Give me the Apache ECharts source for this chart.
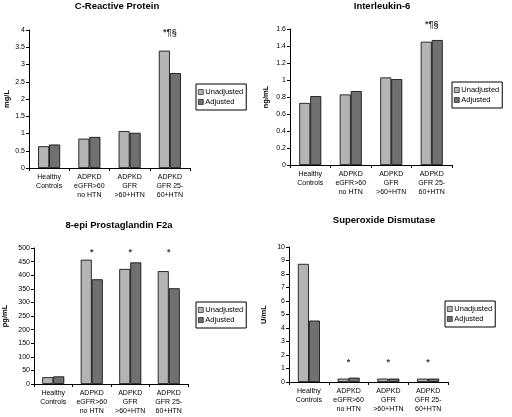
<!DOCTYPE html>
<html><head><meta charset="utf-8">
<script src="https://cdn.jsdelivr.net/npm/echarts@6/dist/echarts.min.js"></script>
<style>html,body{margin:0;padding:0;background:#fff}#c{width:512px;height:417px}</style>
</head><body><div id="c"></div>
<script>
const categories = ['Healthy\nControls', 'ADPKD\neGFR>60\nno HTN', 'ADPKD\nGFR\n>60+HTN', 'ADPKD\nGFR 25-\n60+HTN'];
const seriesNames = ['Unadjusted', 'Adjusted'];

const titles = ['C-Reactive Protein', 'Interleukin-6', '8-epi Prostaglandin F2a', 'Superoxide Dismutase'];
const units = ['mg/L', 'ng/mL', 'pg/mL', 'U/mL'];
const yMax = [4, 1.6, 500, 10];
const yStep = [0.5, 0.2, 50, 1];

const crpUnadjusted = [0.63, 0.85, 1.07, 3.40];
const crpAdjusted = [0.68, 0.90, 1.02, 2.75];
const il6Unadjusted = [0.73, 0.83, 1.03, 1.45];
const il6Adjusted = [0.81, 0.87, 1.01, 1.47];
const pgUnadjusted = [25, 457, 423, 415];
const pgAdjusted = [28, 385, 447, 352];
const sodUnadjusted = [8.75, 0.25, 0.25, 0.25];
const sodAdjusted = [4.55, 0.32, 0.25, 0.25];

const crpNotes = ['', '', '', '*¶§'];
const il6Notes = ['', '', '', '*¶§'];
const pgNotes = ['', '*', '*', '*'];
const sodNotes = ['', '*', '*', '*'];
const noteLevel = [3.94, 1.65, 485, 1.45];

const unadjusted = [crpUnadjusted, il6Unadjusted, pgUnadjusted, sodUnadjusted];
const adjusted = [crpAdjusted, il6Adjusted, pgAdjusted, sodAdjusted];
const notes = [crpNotes, il6Notes, pgNotes, sodNotes];

const FONT = 'Liberation Sans';
const LIGHT = '#b4b4b4', DARK = '#707070';
const grids = [
  {left: 29, top: 30, width: 161, height: 138},
  {left: 290, top: 29, width: 162, height: 136},
  {left: 30, top: 248, width: 158, height: 136},
  {left: 289, top: 247, width: 159, height: 135}
];
const titlePos = [[117, 1], [382, 1], [119, 220], [384, 215]];
const legendPos = [[196, 84], [452, 82], [196, 302], [445, 301]];
const nameGaps = [17, 20, 25, 21];

const option = {
  animation: false,
  backgroundColor: '#fff',
  title: titles.map((t, i) => ({
    text: t, left: titlePos[i][0], top: titlePos[i][1], textAlign: 'center', padding: 0,
    textStyle: {fontFamily: FONT, fontSize: 9.5, fontWeight: 'bold', color: '#000'}
  })),
  legend: legendPos.map(p => ({
    data: [
      {name: seriesNames[0], itemStyle: {color: LIGHT, borderColor: '#000', borderWidth: 0.6}},
      {name: seriesNames[1], itemStyle: {color: DARK, borderColor: '#000', borderWidth: 0.6}}
    ],
    orient: 'vertical', left: p[0], top: p[1],
    borderColor: '#000', borderWidth: 1, padding: [4, 3, 4, 2], itemGap: 2,
    itemWidth: 5, itemHeight: 5, icon: 'rect',
    textStyle: {fontFamily: FONT, fontSize: 7.5, color: '#000', padding: [0, 0, 0, -3]},
    selectedMode: false
  })),
  grid: grids,
  xAxis: grids.map((g, i) => ({
    type: 'category', gridIndex: i, data: categories,
    axisLine: {lineStyle: {color: '#000', width: 1}},
    axisTick: {show: true, length: 3, lineStyle: {color: '#000'}},
    axisLabel: {fontFamily: FONT, fontSize: 7, color: '#000', lineHeight: 9, margin: 5, interval: 0}
  })),
  yAxis: grids.map((g, i) => ({
    type: 'value', gridIndex: i, min: 0, max: yMax[i], interval: yStep[i],
    name: units[i], nameLocation: 'middle', nameGap: nameGaps[i], nameRotate: 90,
    nameTextStyle: {fontFamily: FONT, fontSize: 7.5, fontWeight: 'bold', color: '#000'},
    splitLine: {show: false},
    axisLine: {show: true, lineStyle: {color: '#000', width: 1}},
    axisTick: {show: true, length: 3, lineStyle: {color: '#000'}},
    axisLabel: {fontFamily: FONT, fontSize: 7, color: '#000', margin: 4}
  })),
  series: []
};

for (let i = 0; i < 4; i++) {
  option.series.push({
    name: seriesNames[0], type: 'bar', xAxisIndex: i, yAxisIndex: i,
    data: unadjusted[i], barWidth: 11, barGap: '0%',
    itemStyle: {color: LIGHT, borderColor: '#000', borderWidth: 0.8}
  });
  option.series.push({
    name: seriesNames[1], type: 'bar', xAxisIndex: i, yAxisIndex: i,
    data: adjusted[i], barWidth: 11, barGap: '0%',
    itemStyle: {color: DARK, borderColor: '#000', borderWidth: 0.8}
  });
  option.series.push({
    name: 'notes', type: 'scatter', xAxisIndex: i, yAxisIndex: i, clip: false,
    symbolSize: 0, silent: true,
    data: notes[i].map(n => noteLevel[i]),
    label: {
      show: true, position: 'inside', fontFamily: FONT, fontSize: 9, fontWeight: 'bold', color: '#000',
      formatter: p => notes[i][p.dataIndex]
    }
  });
}

const chart = echarts.init(document.getElementById('c'), null, {renderer: 'canvas'});
chart.setOption(option);
</script>
</body></html>
